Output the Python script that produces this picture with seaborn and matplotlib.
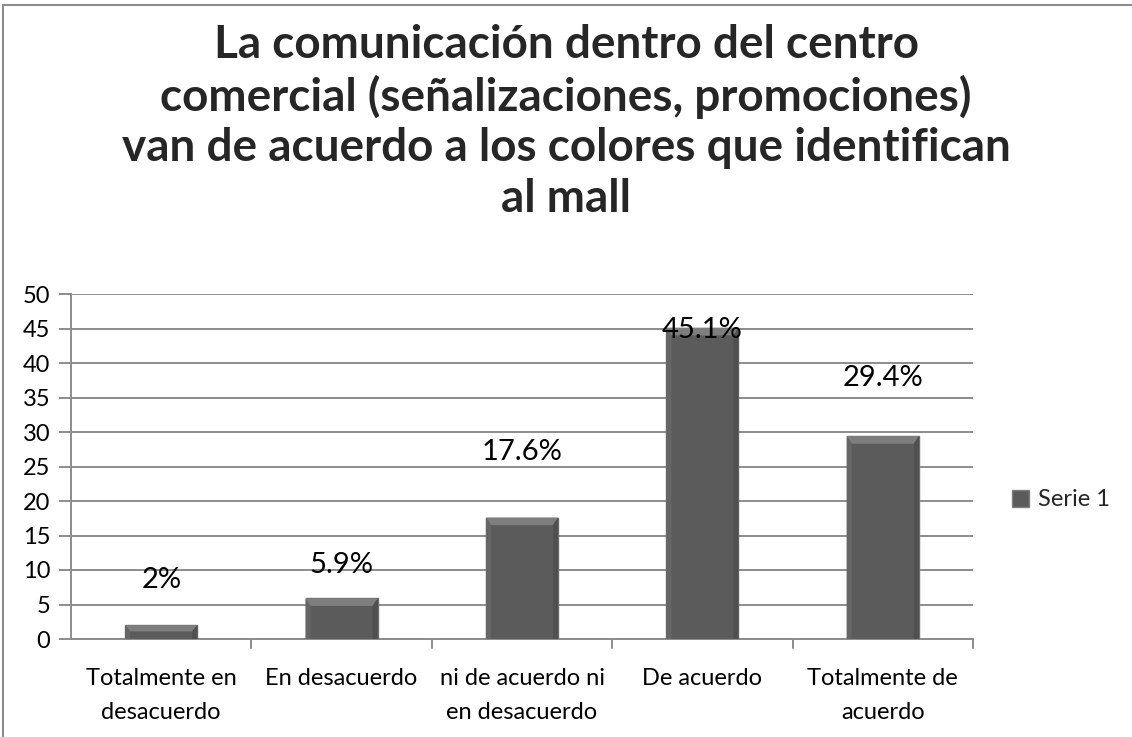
import matplotlib
matplotlib.use("Agg")
import matplotlib.pyplot as plt
from matplotlib.patches import Polygon, Rectangle
from matplotlib.lines import Line2D
import seaborn as sns
import pandas as pd

categories = ["Totalmente en\ndesacuerdo", "En desacuerdo", "ni de acuerdo ni\nen desacuerdo",
              "De acuerdo", "Totalmente de\nacuerdo"]
values = [2.0, 5.9, 17.6, 45.1, 29.4]
value_labels = ["2%", "5.9%", "17.6%", "45.1%", "29.4%"]
label_y = [8.6, 10.7, 27.1, 44.8, 37.8]
series_name = "Serie 1"
title = ("La comunicación dentro del centro\ncomercial (señalizaciones, promociones)\n"
         "van de acuerdo a los colores que identifican\nal mall")
y_ticks = list(range(0, 51, 5))

sns.set_theme(style="white")
plt.rcParams["font.family"] = ["Lato", "DejaVu Sans"]

df = pd.DataFrame({"categoria": categories, "valor": values})

fig = plt.figure(figsize=(11.32, 7.37), dpi=100)
W, H = 1132, 737
ax = fig.add_axes([71 / W, 1 - 639 / H, (973 - 71) / W, (639 - 294) / H])

bar_color = "#5b5b5b"
sns.barplot(data=df, x="categoria", y="valor", color=bar_color, width=0.4,
            saturation=1, ax=ax, zorder=3, edgecolor="#6e6e6e", linewidth=1)

# bevel highlight on each bar top and sides
for p in ax.patches:
    x0, w, h = p.get_x(), p.get_width(), p.get_height()
    dx = w * 0.07
    dy = min(1.1, h * 0.45)
    top = Polygon([[x0, h], [x0 + w, h], [x0 + w - dx, h - dy], [x0 + dx, h - dy]],
                  closed=True, facecolor="#7e7e7e", edgecolor="none", zorder=4)
    ax.add_patch(top)
    left = Polygon([[x0, 0], [x0, h], [x0 + dx, h - dy], [x0 + dx, 0]],
                   closed=True, facecolor="#666666", edgecolor="none", zorder=4)
    ax.add_patch(left)
    right = Polygon([[x0 + w, 0], [x0 + w, h], [x0 + w - dx, h - dy], [x0 + w - dx, 0]],
                    closed=True, facecolor="#505050", edgecolor="none", zorder=4)
    ax.add_patch(right)

for i, (lab, ly) in enumerate(zip(value_labels, label_y)):
    ax.text(i, ly, lab, ha="center", va="center", fontsize=21, color="black",
            zorder=6)

ax.set_xlim(-0.5, len(categories) - 0.5)
ax.set_ylim(0, 50)
ax.set_yticks(y_ticks)
ax.set_yticklabels([str(t) for t in y_ticks], fontsize=17, color="black")
ax.set_xticks(range(len(categories)))
ax.set_xticklabels(categories, fontsize=17, color="black", linespacing=1.75)
ax.set_xlabel("")
ax.set_ylabel("")
ax.yaxis.grid(True, color="#8c8c8c", linewidth=1.4, zorder=0)
ax.set_axisbelow(True)

for s in ["top", "right"]:
    ax.spines[s].set_visible(False)
for s in ["left", "bottom"]:
    ax.spines[s].set_color("#8c8c8c")
    ax.spines[s].set_linewidth(1.4)

# category boundary tick marks below the axis
ax.tick_params(axis="x", length=0, pad=21)
ax.tick_params(axis="y", length=9, width=1.4, color="#8c8c8c", left=True, pad=6)
for b in [i + 0.5 for i in range(len(categories))]:
    ax.plot([b, b], [0, -1.3], color="#8c8c8c", linewidth=1.4, clip_on=False,
            zorder=2)

fig.text(0.5, 1 - 122 / H, title, ha="center", va="center", fontsize=33,
         fontweight="bold", linespacing=1.24)

handle = Rectangle((0, 0), 1, 1, facecolor=bar_color, edgecolor="#808080")
fig.legend([handle], [series_name], loc="center left",
           bbox_to_anchor=(991 / W, 1 - 500 / H), frameon=False,
           fontsize=17, handlelength=0.7, handleheight=0.7, handletextpad=0.4)

# outer chart frame
fig.add_artist(Line2D([3 / W, 1], [1 - 5 / H, 1 - 5 / H], transform=fig.transFigure,
                      color="#8c8c8c", linewidth=1.5))
fig.add_artist(Line2D([3 / W, 3 / W], [0, 1 - 5 / H], transform=fig.transFigure,
                      color="#8c8c8c", linewidth=1.5))

fig.savefig("out.png", dpi=100, facecolor="white")
